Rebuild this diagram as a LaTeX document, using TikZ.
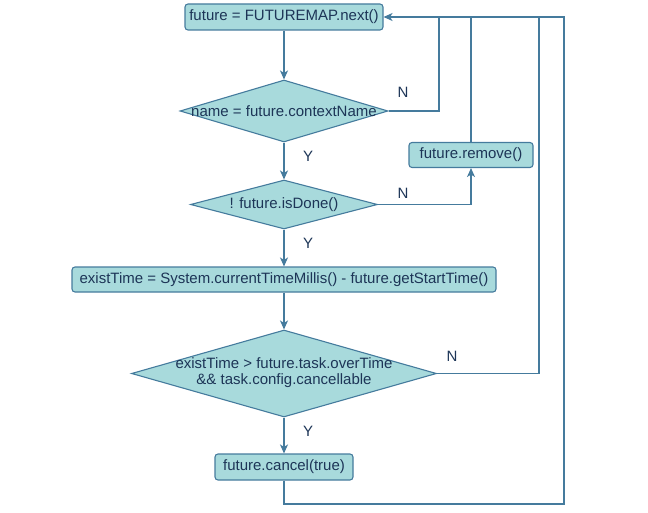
\documentclass[tikz,border=0pt]{standalone}
\usepackage{fontspec}
\setmainfont{Liberation Sans}
\usetikzlibrary{shapes.geometric,arrows.meta}
\definecolor{boxfill}{HTML}{A8DADC}
\definecolor{boxline}{HTML}{457B9D}
\definecolor{txt}{HTML}{1D3557}
\begin{document}
\begin{tikzpicture}[x=1pt,y=-1pt,
  every node/.style={font=\fontsize{15}{16}\selectfont, text=txt},
  proc/.style={draw=boxline, fill=boxfill, line width=1.1pt, rounded corners=3pt, inner sep=0pt},
  dec/.style={draw=boxline, fill=boxfill, line width=1.1pt, diamond, inner sep=0pt, aspect=1},
  conn/.style={draw=boxline, line width=1.3pt},
  arr/.style={conn, -{Stealth[length=9pt,width=8pt,inset=2.5pt]}},
  lab/.style={inner sep=0pt}
]
\useasboundingbox (0,0) rectangle (648,513);
% nodes
\node[proc, minimum width=198, minimum height=26] (n1) at (284,17) {future = FUTUREMAP.next()};
\node[dec, minimum width=208, minimum height=62] (d1) at (284,111) {\makebox[0pt]{name = future.contextName}};
\node[proc, minimum width=124, minimum height=25] (rm) at (471,155) {future.remove()};
\node[dec, minimum width=187, minimum height=49] (d2) at (284,204.5) {\makebox[0pt]{! future.isDone()}};
\node[proc, minimum width=424, minimum height=25] (et) at (284,279.5) {existTime = System.currentTimeMillis() - future.getStartTime()};
\node[dec, minimum width=305, minimum height=87] (d3) at (284,373.5) {\makebox[0pt]{\begin{tabular}{@{}c@{}}existTime > future.task.overTime\\\&\& task.config.cancellable\end{tabular}}};
\node[proc, minimum width=138, minimum height=26] (cc) at (284,467) {future.cancel(true)};
% junction coordinates
\coordinate (j1) at (439,17);
\coordinate (j3) at (539,17);
\coordinate (cb) at (564,504);
\coordinate (ct) at (564,17);
% connectors
\draw[arr] (n1.south) -- (d1.north);
\draw[arr] (d1.south) -- (d2.north);
\draw[arr] (d2.south) -- (et.north);
\draw[arr] (et.south) -- (d3.north);
\draw[arr] (d3.south) -- (cc.north);
\draw[arr] (d2.east) -| (rm.south);
\draw[conn] (d1.east) -| (j1);
\draw[conn] (rm.north) -- (rm.north |- n1.east);
\draw[conn] (d3.east) -| (j3);
\draw[arr] (cc.south) |- (cb) -- (ct) -- (n1.east);
% labels
\node[lab] (ln1) at (403,92) {N};
\node[lab] (ly1) at (308,156) {Y};
\node[lab] (ln2) at (403,193) {N};
\node[lab] (ly2) at (308,243) {Y};
\node[lab] (ln3) at (452,356) {N};
\node[lab] (ly3) at (308,431) {Y};
\end{tikzpicture}
\end{document}
